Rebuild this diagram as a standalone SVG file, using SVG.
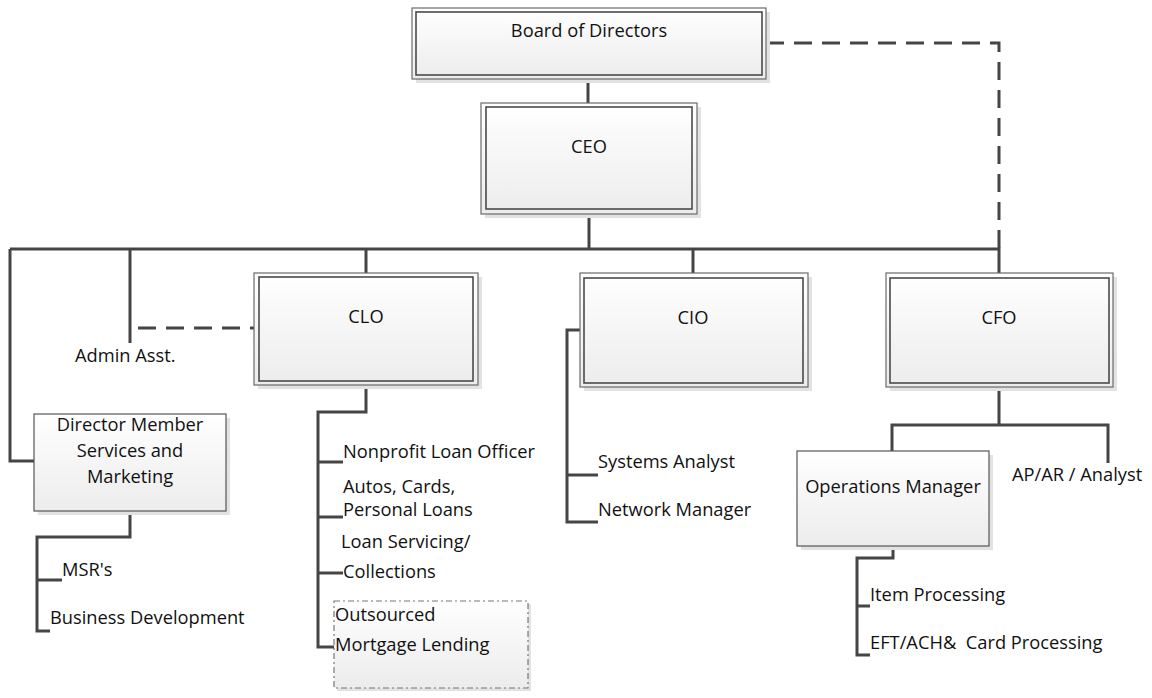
<svg xmlns="http://www.w3.org/2000/svg" width="1152" height="698" viewBox="0 0 1152 698">
<defs>
<linearGradient id="g" x1="0" y1="0" x2="0" y2="1">
<stop offset="0" stop-color="#ffffff"/>
<stop offset="1" stop-color="#ececec"/>
</linearGradient>
</defs>
<style>
.sh{fill:#e2e2e2;stroke:none}
.outer{fill:url(#g);stroke:#6a6a6a;stroke-width:1.2}
.inner{fill:none;stroke:#4a4a4a;stroke-width:1.6}
.single{fill:url(#g);stroke:#555;stroke-width:1.2}
.dbox{fill:url(#g);stroke:#777;stroke-width:1.2;stroke-dasharray:6 3 2 3}
.c{fill:none;stroke:#454545;stroke-width:3}
.d{fill:none;stroke:#454545;stroke-width:3;stroke-dasharray:18 10}
text{font-family:"Open Sans","Liberation Sans",sans-serif;font-size:18.3px;fill:#111}
.m{text-anchor:middle}
</style>
<rect width="1152" height="698" fill="#ffffff"/>
<g id="connectors">
<path class="c" d="M588,79V103"/>
<path class="d" d="M766,43H999V249"/>
<path class="c" d="M589,214V249"/>
<path class="c" d="M10,249H999V273"/>
<path class="c" d="M366,249V273"/>
<path class="c" d="M693,249V273"/>
<path class="c" d="M10,249V461H34"/>
<path class="c" d="M130,249V343"/>
<path class="d" d="M138,328H254"/>
<path class="c" d="M366,385V412H318V647H335"/>
<path class="c" d="M318,462H343M318,517H343M318,573H343"/>
<path class="c" d="M580,330H567V522H598M567,475H598"/>
<path class="c" d="M999,387V425M892,451V425H1108V463"/>
<path class="c" d="M893,546V558H857V655H870M857,606H870"/>
<path class="c" d="M130,511V537H37V631H50M37,580H62"/>
</g>
<g id="board">
<rect class="sh" x="416" y="12" width="354" height="71"/>
<rect class="outer" x="412" y="8" width="354" height="71"/>
<rect class="inner" x="416" y="12" width="346" height="63"/>
<text class="m" x="589" y="37">Board of Directors</text>
</g>
<g id="ceo">
<rect class="sh" x="485" y="107" width="216" height="111"/>
<rect class="outer" x="481" y="103" width="216" height="111"/>
<rect class="inner" x="486" y="107" width="206" height="102"/>
<text class="m" x="589" y="153">CEO</text>
</g>
<g id="clo">
<rect class="sh" x="258" y="277" width="224" height="112"/>
<rect class="outer" x="254" y="273" width="224" height="112"/>
<rect class="inner" x="259" y="277" width="214" height="104"/>
<text class="m" x="366" y="323">CLO</text>
</g>
<g id="cio">
<rect class="sh" x="584" y="277" width="228" height="114"/>
<rect class="outer" x="580" y="273" width="228" height="114"/>
<rect class="inner" x="584" y="278" width="219" height="105"/>
<text class="m" x="693" y="324">CIO</text>
</g>
<g id="cfo">
<rect class="sh" x="890" y="277" width="227" height="114"/>
<rect class="outer" x="886" y="273" width="227" height="114"/>
<rect class="inner" x="890" y="278" width="219" height="105"/>
<text class="m" x="999" y="324">CFO</text>
</g>
<g id="admin">
<text x="75" y="362">Admin Asst.</text>
</g>
<g id="director">
<rect class="sh" x="38" y="418" width="192" height="97"/>
<rect class="single" x="34" y="414" width="192" height="97"/>
<text class="m" x="130" y="431">Director Member</text>
<text class="m" x="130" y="457">Services and</text>
<text class="m" x="130" y="483">Marketing</text>
</g>
<g id="msr"><text x="62" y="576">MSR's</text></g>
<g id="bizdev"><text x="50" y="624">Business Development</text></g>
<g id="nonprofit"><text x="343" y="458">Nonprofit Loan Officer</text></g>
<g id="autos"><text x="343" y="493">Autos, Cards,</text><text x="343" y="516">Personal Loans</text></g>
<g id="servicing"><text x="341" y="548">Loan Servicing/</text><text x="343" y="578">Collections</text></g>
<g id="mortgage">
<rect class="sh" x="337" y="604" width="194" height="87"/>
<rect class="dbox" x="334" y="601" width="194" height="87"/>
<text x="335" y="621">Outsourced</text>
<text x="335" y="651">Mortgage Lending</text>
</g>
<g id="sysanalyst"><text x="598" y="468">Systems Analyst</text></g>
<g id="netmgr"><text x="598" y="516">Network Manager</text></g>
<g id="ops">
<rect class="sh" x="801" y="455" width="192" height="95"/>
<rect class="single" x="797" y="451" width="192" height="95"/>
<text class="m" x="893" y="493">Operations Manager</text>
</g>
<g id="apar"><text x="1012" y="481">AP/AR / Analyst</text></g>
<g id="item"><text x="870" y="601">Item Processing</text></g>
<g id="eft"><text x="870" y="649" xml:space="preserve">EFT/ACH&amp;  Card Processing</text></g>
</svg>
